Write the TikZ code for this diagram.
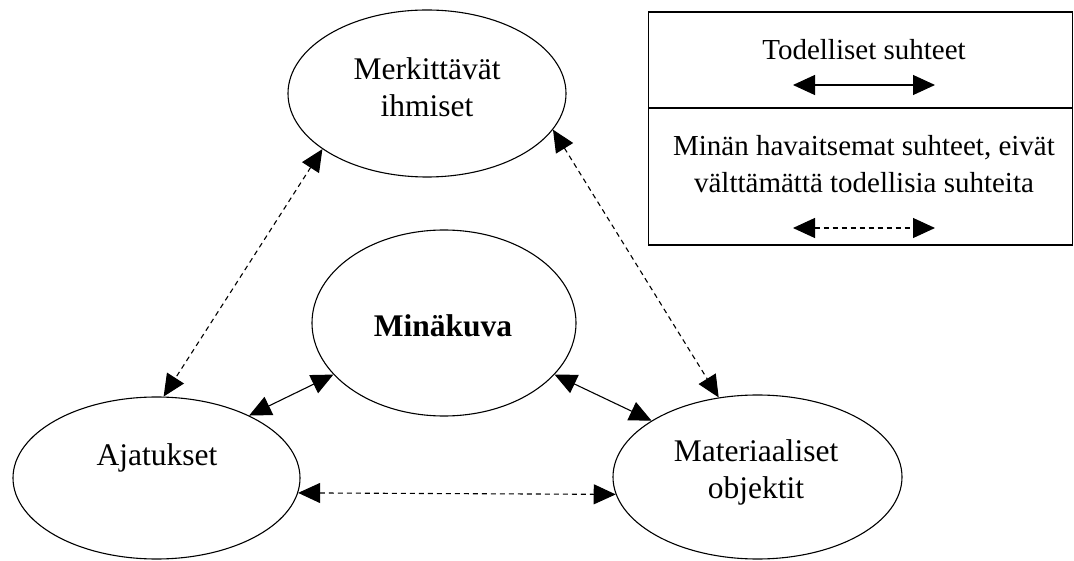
\documentclass[tikz,border=0pt]{standalone}
\usepackage{fontspec}
\setmainfont{Liberation Serif}
\usetikzlibrary{arrows.meta,shapes.geometric}

\newcommand\wordsize{\fontsize{31.5}{37}\selectfont}
\newcommand\keysize{\fontsize{29}{37}\selectfont}

\tikzset{
  blob/.style={draw, ellipse, inner sep=0pt, line width=1.1pt},
  word/.style={font=\wordsize, align=center, anchor=base, inner sep=0pt},
  keyword/.style={font=\keysize, align=center, anchor=base, inner sep=0pt},
  real/.style={<->, line width=1.1pt},
  seen/.style={<->, line width=1.1pt, dash pattern=on 5pt off 4pt},
  >={Triangle[length=22pt,width=20pt]}
}

\begin{document}
\begin{tikzpicture}[x=1pt,y=-1pt]
    \useasboundingbox (0,0) rectangle (1074,561);

    % the four ellipses
    \node[blob, minimum width=278pt, minimum height=167pt] (merk) at (427,93.5) {};
    \node[blob, minimum width=264pt, minimum height=186pt] (mina) at (444,323) {};
    \node[blob, minimum width=287pt, minimum height=162pt] (ajat) at (156.5,478) {};
    \node[blob, minimum width=289pt, minimum height=164pt] (mat) at (757.5,477) {};

    % base of a two-line node is its last line
    \node[word] (merkText) at (427,117) {Merkittävät\\ihmiset};
    \node[word, font=\wordsize\bfseries] (minaText) at (443,337) {Minäkuva};
    \node[word] (ajatText) at (157,465) {Ajatukset};
    \node[word] (matText) at (756,498) {Materiaaliset\\objektit};

    % relations
    \draw[seen] (merk.208) -- (ajat.85);
    \draw[seen] (merk.344) -- (mat.116);
    \draw[real] (ajat.34) -- (mina.205);
    \draw[real] (mina.335) -- (mat.152);
    \draw[seen] (ajat.354) -- (mat.187);

    % legend
    \node[draw, line width=1.1pt, minimum width=424pt, minimum height=233pt, inner sep=0pt] (legend) at (860.5,128.5) {};
    \coordinate (divL) at (648,108);
    \coordinate (divR) at (1072.5,108);
    \draw[line width=1.1pt] (divL) -- (divR);

    \node[keyword] (realText) at (864,60) {Todelliset suhteet};
    \coordinate (realL) at (793,85);
    \coordinate (realR) at (935,85);
    \draw[real] (realL) -- (realR);

    \node[keyword] (seenText) at (864,193) {Minän havaitsemat suhteet, eivät\\välttämättä todellisia suhteita};
    \coordinate (seenL) at (793,228);
    \coordinate (seenR) at (935,228);
    \draw[seen] (seenL) -- (seenR);
  \end{tikzpicture}
\end{document}
